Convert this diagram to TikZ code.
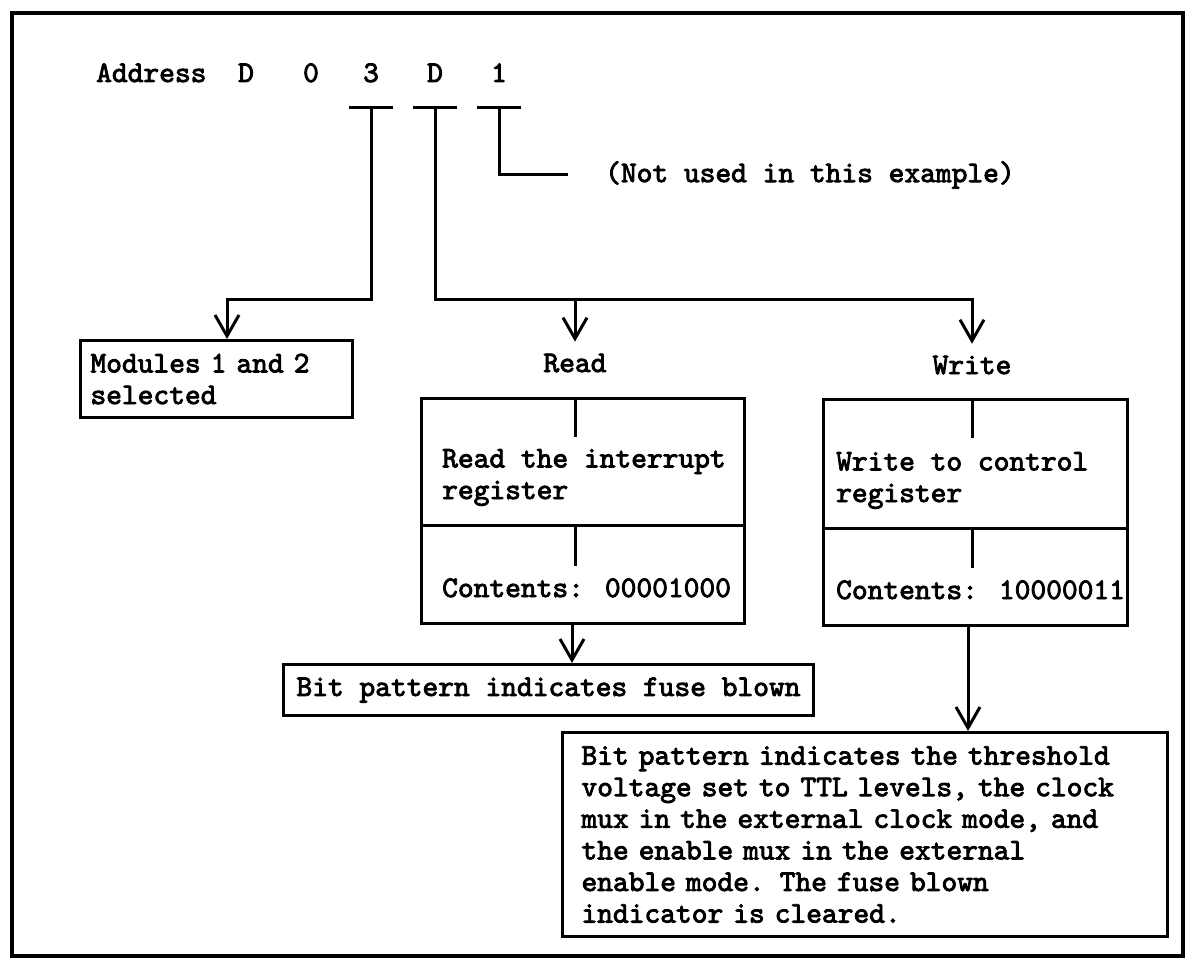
\documentclass[tikz,border=0pt]{standalone}
\usepackage{fontspec}
\newfontfamily\typew{lmmono10-regular}[Extension=.otf, FakeBold=2.8]
\usetikzlibrary{arrows.meta,positioning}
\tikzset{
  box/.style={draw, rectangle, line width=3pt, inner sep=0pt},
  txt/.style={inner sep=0pt, align=left},
  lbl/.style={inner sep=0pt, outer ysep=12pt},
  wire/.style={line width=3pt},
  arr/.style={wire, -{Straight Barb[length=21pt,width=24pt]}},
}
\begin{document}
\begin{tikzpicture}[x=1pt, y=-1pt, font=\typew\fontsize{30}{31.6}\selectfont]
\useasboundingbox (0,0) rectangle (1186,960);
\draw[line width=3.2pt] (12,13) rectangle (1183,956);

% address digits
\node (addr) [txt, anchor=base west] at (96,82) {Address};
\node (dA) [txt, anchor=base] at (246,82) {D};
\node (d0) [txt, anchor=base] at (311,82) {0};
\node (d3) [txt, anchor=base] at (371,82) {3};
\node (dD) [txt, anchor=base] at (435,82) {D};
\node (d1) [txt, anchor=base] at (499,82) {1};
\node (unused) [txt, anchor=west] at (605,175) {(Not used in this example)};

\coordinate (tbar) at (0,108);
\coordinate (bus) at (0,299);
\coordinate (modx) at (227,0);

% boxes
\node (modules) [box, anchor=north west, minimum width=272pt, minimum height=77pt,
  text width=252pt, align=left] at (79,339) {Modules 1 and 2\\selected};
\node (readlbl) [lbl] at (575,363) {Read};
\node (writelbl) [lbl] at (972,365) {Write};

\node (readbox) [box, anchor=north west, minimum width=323pt, minimum height=225pt] at (420,397) {};
\node (readtxt) [txt, anchor=base west] at (442,499) {Read the interrupt\\register};
\node (readcont) [txt, anchor=base west] at (442,597) {Contents: 00001000};

\node (writebox) [box, anchor=north west, minimum width=304pt, minimum height=226pt] at (822,398) {};
\node (writetxt) [txt, anchor=base west] at (836,502) {Write to control\\register};
\node (writecont) [txt, anchor=base west] at (836,599) {Contents: 10000011};

\node (fuse) [box, anchor=north west, minimum width=530pt, minimum height=51pt]
  at (282,663) {Bit pattern indicates fuse blown};
\node (result) [box, anchor=north west, minimum width=605pt, minimum height=204pt,
  text width=567pt, align=left] at (561,731)
  {Bit pattern indicates the threshold\\voltage set to TTL levels, the clock\\mux in the external clock mode, and\\the enable mux in the external\\enable mode. The fuse blown\\indicator is cleared.};

% dividers and ticks
\draw[wire] ([yshift=-128pt]readbox.north west) -- ([yshift=-128pt]readbox.north east);
\draw[wire] ([yshift=-130pt]writebox.north west) -- ([yshift=-130pt]writebox.north east);
\draw[wire] (readlbl |- readbox.north) -- ++(0,40);
\draw[wire] ([yshift=-128pt]readlbl |- readbox.north) -- ++(0,41);
\draw[wire] (writelbl |- writebox.north) -- ++(0,40);
\draw[wire] ([yshift=-130pt]writelbl |- writebox.north) -- ++(0,40);

% brackets under the address
\foreach \d in {d3,dD,d1}
  \draw[wire] (\d |- tbar) ++(-22,0) -- ++(44,0);
\draw[wire] (d1 |- tbar) |- ([xshift=-37pt]unused.west);
\draw[arr] (d3 |- tbar) -- (d3 |- bus) -| (modules.north -| modx);
\draw[arr] (dD |- tbar) -- (dD |- bus) -| (writelbl.north);
\draw[arr] (readlbl |- bus) -- (readlbl.north);

\draw[arr] (readbox.south -| 572,0) -- (fuse.north -| 572,0);
\draw[arr] (writebox.south -| 968,0) -- (result.north -| 968,0);
\end{tikzpicture}
\end{document}
